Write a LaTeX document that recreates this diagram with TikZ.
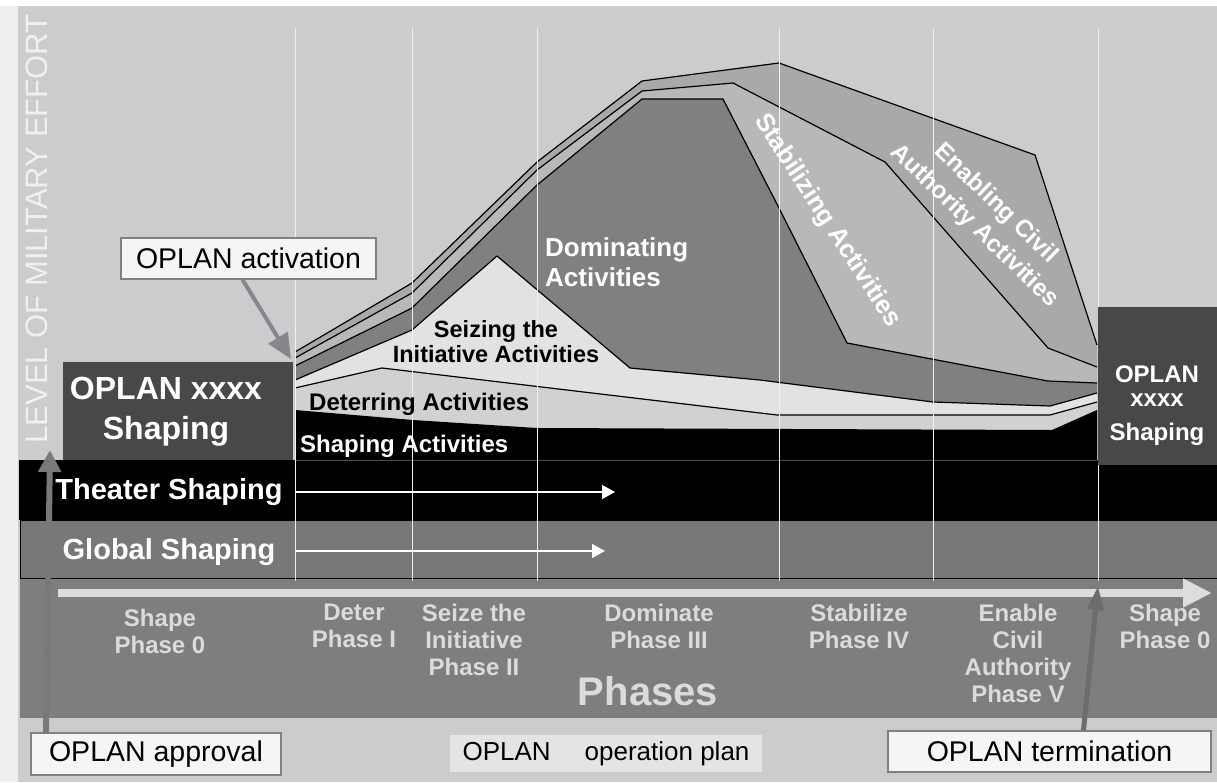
\documentclass[tikz,border=0pt]{standalone}
\usepackage{fontspec}
\setmainfont{Liberation Sans}
\usetikzlibrary{arrows.meta}

\definecolor{panelgray}{HTML}{CBCCCE}
\definecolor{stripgray}{HTML}{EEEFF0}
\definecolor{enabgray}{HTML}{A8A9AB}
\definecolor{stabgray}{HTML}{B7B8BA}
\definecolor{domgray}{HTML}{7F8082}
\definecolor{seizegray}{HTML}{E1E2E4}
\definecolor{detergray}{HTML}{D0D1D3}
\definecolor{boxgray}{HTML}{48484A}
\definecolor{globalgray}{HTML}{77787A}
\definecolor{phasegray}{HTML}{7D7E80}
\definecolor{phasetext}{HTML}{DADBDD}
\definecolor{legendfill}{HTML}{E3E4E6}
\definecolor{bigarrow}{HTML}{DCDDDF}
\definecolor{pointergray}{HTML}{86878A}
\definecolor{approvalgray}{HTML}{78797B}
\definecolor{termgray}{HTML}{6C6D6F}

\newcommand{\fsz}[2]{\fontsize{#1}{#2}\selectfont}

\tikzset{
    callout/.style={draw=gray, fill=white!96!black, line width=1.2pt, inner sep=0pt, font=\fsz{28.5}{32}},
    pointer/.style={draw=pointergray, line width=4pt, -{Triangle[length=25pt,width=22pt]}},
    bandtext/.style={text=white, font=\bfseries\fsz{29}{34}, inner sep=0pt},
    phasetxt/.style={text=phasetext, font=\bfseries\fsz{24}{27}, align=center, anchor=north, inner sep=0pt},
    acttext/.style={font=\bfseries\fsz{24}{28}, inner sep=0pt},
    layeredge/.style={line width=1.2pt, line join=round},
    phaseline/.style={draw=white!94!black, line width=1pt},
    shapearrow/.style={draw=white, line width=1.5pt, -{Triangle[length=13pt,width=14pt]}},
}

\begin{document}
\begin{tikzpicture}[x=1pt,y=-1pt]
    \useasboundingbox (0,0) rectangle (1217,782);
    % backdrop and shaping bands
    \fill[white] (0,0) rectangle (1217,782);
    \fill[stripgray] (0,6) rectangle (18,782);
    \fill[panelgray] (18,6) rectangle (1217,782);
    \fill[phasegray] (20,578) rectangle (1217,718);
    \fill[globalgray, draw=black, line width=1pt] (20,520) rectangle (1218,578);
    \fill[black] (19,460) rectangle (1217,520);

    % stacked layers of effort
    \fill[enabgray] (295,460) -- (295,352) -- (412,283) -- (537,162) -- (642,81) -- (779,63) -- (1035,155) -- (1097,345) -- (1097,460) -- cycle;
    \draw[layeredge] (295,352) -- (412,283) -- (537,162) -- (642,81) -- (779,63) -- (1035,155) -- (1097,345);
    \fill[stabgray] (295,460) -- (295,358) -- (412,293) -- (537,170) -- (642,91) -- (733,83) -- (885,162) -- (1048,348) -- (1097,367) -- (1097,460) -- cycle;
    \draw[layeredge] (295,358) -- (412,293) -- (537,170) -- (642,91) -- (733,83) -- (885,162) -- (1048,348) -- (1097,367);
    \fill[domgray] (295,460) -- (295,366) -- (412,308) -- (537,185) -- (642,99) -- (723,99) -- (780,210) -- (847,343) -- (1048,381) -- (1097,383) -- (1097,460) -- cycle;
    \draw[layeredge] (295,366) -- (412,308) -- (537,185) -- (642,99) -- (723,99) -- (780,210) -- (847,343) -- (1048,381) -- (1097,383);
    \fill[seizegray] (295,460) -- (295,380) -- (412,330) -- (497,256) -- (630,368) -- (760,380) -- (933,402) -- (1050,406) -- (1097,393) -- (1097,460) -- cycle;
    \draw[layeredge] (295,380) -- (412,330) -- (497,256) -- (630,368) -- (760,380) -- (933,402) -- (1050,406) -- (1097,393);
    \fill[detergray] (295,460) -- (295,388) -- (382,368) -- (777,415) -- (1050,415) -- (1097,402) -- (1097,460) -- cycle;
    \draw[layeredge] (295,388) -- (382,368) -- (777,415) -- (1050,415) -- (1097,402);
    \fill[black] (295,460) -- (295,410) -- (413,420) -- (537,428) -- (1052,430) -- (1097,410) -- (1097,460) -- cycle;

    % phase separators
    \foreach \x in {295,412,537,779,933,1098}
        \draw[phaseline] (\x,28) -- (\x,581);

    % OPLAN shaping boxes
    \node[fill=boxgray, minimum width=230pt, minimum height=98pt, inner sep=0pt] (leftbox) at (178,411) {};
    \node[text=white, font=\bfseries\fsz{32}{40}, align=center, inner sep=0pt] (lefttext) at (166,412) {OPLAN xxxx\\Shaping};
    \node[fill=boxgray, minimum width=119pt, minimum height=158pt, inner sep=0pt] (rightbox) at (1157.5,386) {};
    \node[text=white, font=\bfseries\fsz{24}{28}, align=center, inner sep=0pt] (righttext) at (1157,406) {OPLAN\\[-4pt]xxxx\\[6pt]Shaping};

    % theater and global shaping
    \node[bandtext] (theater) at (169,492) {Theater Shaping};
    \node[bandtext] (global) at (169,552) {Global Shaping};
    \coordinate (theaterstart) at (296,492);
    \coordinate (theaterend) at (615,492);
    \coordinate (globalstart) at (296,551);
    \coordinate (globalend) at (605,551);
    \draw[shapearrow] (theaterstart) -- (theaterend);
    \draw[shapearrow] (globalstart) -- (globalend);

    % activity labels
    \node[acttext, text=white, anchor=base west] (shapingact) at (300,452) {Shaping Activities};
    \node[acttext, anchor=base west] (deterringact) at (309,410) {Deterring Activities};
    \node[acttext, font=\bfseries\fsz{23.5}{25}, align=center] (seizingact) at (496,342) {Seizing the\\Initiative Activities};
    \node[acttext, text=white, font=\bfseries\fsz{26}{30}, align=left, anchor=north west] (dominatingact) at (545,237) {Dominating\\Activities};
    \node[acttext, text=white, font=\bfseries\fsz{25.5}{30}, rotate=-57] (stabilizingact) at (827,221) {Stabilizing Activities};
    \node[acttext, text=white, font=\bfseries\fsz{24.3}{31}, align=center, rotate=-44] (enablingact) at (985,215) {Enabling Civil\\Authority Activities};

    % axis label
    \node[text=white!94!black, font=\fsz{31}{36}, rotate=90, inner sep=0pt] (effort) at (37,229) {LEVEL OF MILITARY EFFORT};

    % phase axis
    \coordinate (phasestart) at (58,593);
    \coordinate (phaseend) at (1212,593);
    \draw[draw=bigarrow, line width=8pt, -{Triangle[length=29pt,width=27pt]}] (phasestart) -- (phaseend);
    \node[phasetxt] (shape0) at (160,609) {Shape\\Phase 0};
    \node[phasetxt] (deter) at (354,604) {Deter\\Phase I};
    \node[phasetxt] (seize) at (474,604) {Seize the\\Initiative\\Phase II};
    \node[phasetxt] (dominate) at (659,604) {Dominate\\Phase III};
    \node[phasetxt] (stabilize) at (859,604) {Stabilize\\Phase IV};
    \node[phasetxt] (enable) at (1018,604) {Enable\\Civil\\Authority\\Phase V};
    \node[phasetxt] (shapeend) at (1165,604) {Shape\\Phase 0};
    \node[text=white!86!black, font=\bfseries\fsz{40}{46}, inner sep=0pt] (phases) at (648,691) {Phases};

    % callouts
    \node[callout, minimum width=255pt, minimum height=41pt] (activation) at (248.5,258.5) {OPLAN activation};
    \node[callout, minimum width=250pt, minimum height=42pt] (approval) at (156,754) {OPLAN approval};
    \node[callout, minimum width=323pt, minimum height=41pt] (termination) at (1049.5,751.5) {OPLAN termination};
    \node[fill=legendfill, minimum width=312pt, minimum height=37pt, inner sep=0pt, font=\fsz{26}{30}] (legend) at (606,753.5) {OPLAN\hspace{34pt}operation plan};

    \coordinate (activationtip) at (291,359);
    \coordinate (approvaltip) at (50,450);
    \coordinate (terminationtip) at (1098,586);
    \draw[pointer] ([xshift=-6pt]activation.south) -- (activationtip);
    \draw[pointer, draw=approvalgray, line width=6pt, -{Triangle[length=22pt,width=22pt]}] ([xshift=-110pt]approval.north) -- (approvaltip);
    \draw[pointer, draw=termgray, line width=5pt, -{Triangle[length=24pt,width=16pt]}] ([xshift=34pt]termination.north) -- (terminationtip);
\end{tikzpicture}
\end{document}
